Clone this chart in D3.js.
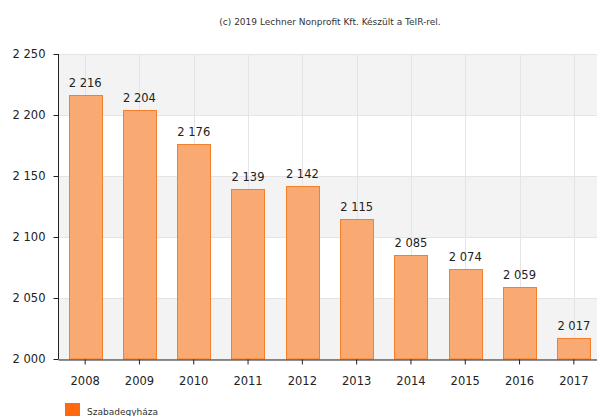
<!DOCTYPE html>
<html><head><meta charset="utf-8">
<script src="https://cdn.jsdelivr.net/npm/d3@7"></script>
<style>body{margin:0;background:#fff}svg{display:block;font-family:Tahoma,"DejaVu Sans",Verdana,sans-serif}</style>
</head><body>
<svg id="c" width="597" height="416"></svg>
<script>
const years = ["2008","2009","2010","2011","2012","2013","2014","2015","2016","2017"];
const values = [2216,2204,2176,2139,2142,2115,2085,2074,2059,2017];
const yTicks = [2000,2050,2100,2150,2200,2250];
const seriesName = "Szabadegyháza";
const title = "(c) 2019 Lechner Nonprofit Kft. Készült a TeIR-rel.";

(function(){
const svg = d3.select("#c");
const pL = 58, pR = 601, pT = 54, pB = 359;
const x = d3.scaleBand().domain(years).range([pL, pR]).paddingInner(0.39).paddingOuter(0.195);
const y = d3.scaleLinear().domain([2000,2250]).range([pB, pT]);
const fmt = v => d3.format(",")(v).replace(/,/g, " ");

for (let i = 0; i < yTicks.length - 1; i++) {
  svg.append("rect").attr("x", pL).attr("width", pR - pL)
    .attr("y", y(yTicks[i+1])).attr("height", y(yTicks[i]) - y(yTicks[i+1]))
    .attr("fill", i % 2 === 0 ? "#f3f3f3" : "#ffffff");
}
svg.append("g").selectAll("line").data(yTicks).join("line")
  .attr("x1", pL).attr("x2", pR).attr("y1", d => Math.round(y(d))+0.5).attr("y2", d => Math.round(y(d))+0.5)
  .attr("stroke", "#e4e4e4");
svg.append("g").selectAll("line").data(years).join("line")
  .attr("x1", d => Math.round(x(d) + x.bandwidth()/2)+0.5).attr("x2", d => Math.round(x(d) + x.bandwidth()/2)+0.5)
  .attr("y1", pT).attr("y2", pB).attr("stroke", "#e4e4e4");

svg.append("g").selectAll("rect").data(values).join("rect")
  .attr("x", (d,i) => Math.round(x(years[i]))+0.5).attr("width", Math.round(x.bandwidth()))
  .attr("y", d => Math.round(y(d))+0.5).attr("height", d => pB - Math.round(y(d)) - 0.5)
  .attr("fill", "#f9aa72").attr("stroke", "#f57f2a").attr("stroke-width", 1);

svg.append("g").selectAll("text").data(values).join("text")
  .attr("x", (d,i) => x(years[i]) + x.bandwidth()/2).attr("y", d => y(d) - 8)
  .attr("text-anchor", "middle").attr("font-size", 11.5).attr("fill", "#222").text(d => fmt(d));

const yAxis = d3.axisLeft(y).tickValues(yTicks).tickSize(5).tickFormat(fmt);
const gy = svg.append("g").attr("transform", `translate(${pL+0.5},0)`).call(yAxis);
gy.select(".domain").attr("stroke", "#222").attr("d", `M0,${pT}V${pB}`);
gy.selectAll(".tick line").attr("stroke", "#222");
gy.selectAll("text").attr("font-size", 11.5).attr("fill", "#222").attr("x", -13).attr("font-family", "Tahoma,'DejaVu Sans',sans-serif");

const xAxis = d3.axisBottom(x).tickSize(5).tickSizeOuter(0);
const gx = svg.append("g").attr("transform", `translate(0,${pB+0.5})`).call(xAxis);
gx.select(".domain").attr("stroke", "#222");
gx.selectAll(".tick line").attr("stroke", "#222");
gx.selectAll("text").attr("font-size", 11.5).attr("fill", "#222").attr("dy", "1.5em").attr("font-family", "Tahoma,'DejaVu Sans',sans-serif");

svg.append("text").attr("x", 330).attr("y", 25).attr("text-anchor", "middle")
  .attr("font-size", 9).attr("fill", "#333").text(title);

svg.append("rect").attr("x", 65).attr("y", 403).attr("width", 15).attr("height", 15).attr("fill", "#ff6a10");
svg.append("text").attr("x", 87).attr("y", 415).attr("font-size", 9).attr("fill", "#333").text(seriesName);
})();
</script>
</body></html>
